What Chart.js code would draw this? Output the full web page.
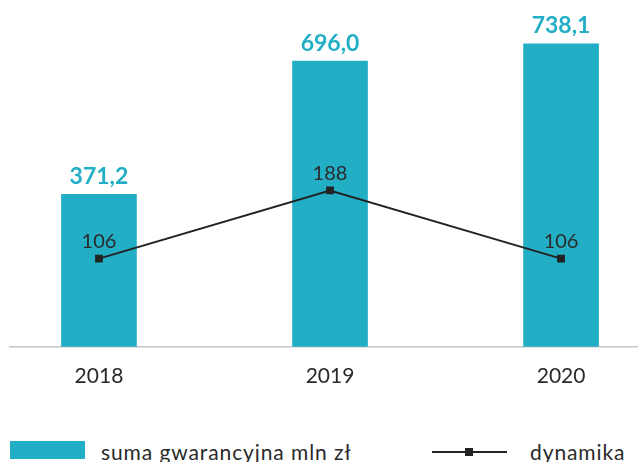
<!DOCTYPE html>
<html>
<head>
<meta charset="utf-8">
<script src="https://cdn.jsdelivr.net/npm/chart.js@4.4.1/dist/chart.umd.min.js"></script>
<style>
  html, body { margin: 0; padding: 0; background: #fff; }
  body { width: 638px; height: 462px; position: relative; overflow: hidden; font-family: Lato, "Open Sans", sans-serif; }
  #wrap { position: absolute; left: 0; top: 0; width: 638px; height: 406px; }
  .legend { position: absolute; font-size: 21px; letter-spacing: 0.9px; color: #2a2a2a; line-height: 26px; white-space: nowrap; }
  .swatch { position: absolute; left: 10px; top: 441px; width: 75px; height: 18px; background: #22AFC6; }
  .lline { position: absolute; left: 432px; top: 451px; width: 75px; height: 2px; background: #222; }
  .lmark { position: absolute; left: 465px; top: 448px; width: 8px; height: 8px; background: #222; }
</style>
</head>
<body>
<div id="wrap"><canvas id="chart"></canvas></div>
<div class="swatch"></div>
<div class="legend" style="left:101px; top:439px;">suma gwarancyjna mln zł</div>
<div class="lline"></div>
<div class="lmark"></div>
<div class="legend" style="left:530px; top:439px;">dynamika</div>
<script>
// dane
const years = ['2018', '2019', '2020'];
const sumaGwarancyjna = [371.2, 696.0, 738.1];
const dynamika = [106, 188, 106];

const TEAL = '#22AFC6';
const DARK = '#222222';

const fmt = v => v.toFixed(1).replace('.', ',');

// etykiety wartości nad słupkami i punktami
const valueLabels = {
    id: 'valueLabels',
    afterDatasetsDraw(chart) {
        const ctx = chart.ctx;
        ctx.save();
        ctx.textAlign = 'center';
        ctx.textBaseline = 'middle';

        chart.getDatasetMeta(0).data.forEach((bar, i) => {
            ctx.font = 'bold 23px Lato, sans-serif';
            ctx.fillStyle = TEAL;
            ctx.fillText(fmt(sumaGwarancyjna[i]), bar.x, bar.y - 18);
        });

        chart.getDatasetMeta(1).data.forEach((pt, i) => {
            ctx.font = '20px Lato, sans-serif';
            ctx.fillStyle = '#2a2a2a';
            ctx.fillText(String(dynamika[i]), pt.x, pt.y - 17);
        });
        ctx.restore();
    }
};

new Chart(document.getElementById('chart'), {
    data: {
        datasets: [
            {
                type: 'bar',
                label: 'suma gwarancyjna mln zł',
                data: sumaGwarancyjna.map((v, i) => ({ x: i, y: v })),
                backgroundColor: TEAL,
                barThickness: 75,
                yAxisID: 'y',
                order: 2
            },
            {
                type: 'line',
                label: 'dynamika',
                data: dynamika.map((v, i) => ({ x: i, y: v })),
                borderColor: DARK,
                borderWidth: 2,
                pointStyle: 'rect',
                pointRadius: 5.5,
                pointBorderWidth: 0,
                pointBackgroundColor: DARK,
                yAxisID: 'y2',
                order: 1
            }
        ]
    },
    options: {
        responsive: true,
        maintainAspectRatio: false,
        animation: false,
        layout: { autoPadding: false, padding: { left: 10, right: 0, top: 0, bottom: 0 } },
        plugins: { legend: { display: false }, tooltip: { enabled: false } },
        scales: {
            x: {
                type: 'linear',
                offset: false,
                min: -0.385,
                max: 2.333,
                afterBuildTicks: axis => { axis.ticks = years.map((_, i) => ({ value: i })); },
                grid: { display: false, drawTicks: false, offset: false },
                border: { display: true, color: '#c6c6c6', width: 1.5 },
                ticks: {
                    padding: 17,
                    color: '#2a2a2a',
                    font: { family: 'Lato', size: 21 },
                    callback: v => years[v] ?? ''
                }
            },
            y: { display: false, min: 0, max: 845 },
            y2: { display: false, min: 0, max: 417 }
        }
    },
    plugins: [valueLabels]
});
</script>
</body>
</html>
